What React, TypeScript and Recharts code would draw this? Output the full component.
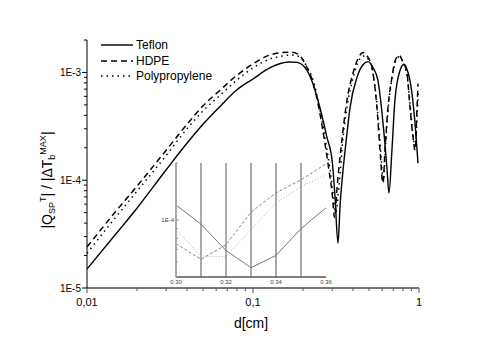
import React from "react";
import { LineChart, Line, XAxis, YAxis, ReferenceLine } from "recharts";

// ---- main chart data ----
const teflonD = [0.01, 0.015, 0.02, 0.03, 0.04, 0.05, 0.063, 0.08, 0.1, 0.126, 0.146, 0.165, 0.184, 0.211, 0.23, 0.254, 0.279, 0.3, 0.312, 0.325, 0.335, 0.348, 0.366, 0.384, 0.423, 0.46, 0.493, 0.53, 0.566, 0.607, 0.641, 0.659, 0.687, 0.716, 0.768, 0.812, 0.85, 0.883, 0.946, 0.986];
const teflonV = [1.5e-5, 3.2e-5, 5.5e-5, 1.25e-4, 2.2e-4, 3.3e-4, 4.8e-4, 6.9e-4, 8.7e-4, 1.1e-3, 1.21e-3, 1.25e-3, 1.24e-3, 1.05e-3, 7.8e-4, 4.6e-4, 2.5e-4, 1.5e-4, 7e-5, 2.6e-5, 6e-5, 1.2e-4, 2.5e-4, 4.7e-4, 9.0e-4, 1.18e-3, 1.26e-3, 1.1e-3, 8.4e-4, 3.4e-4, 1.3e-4, 7.6e-5, 1.9e-4, 5.5e-4, 1.04e-3, 1.19e-3, 1.05e-3, 8.4e-4, 3.4e-4, 1.44e-4];

const hdpeD = [0.01, 0.015, 0.02, 0.03, 0.04, 0.05, 0.063, 0.08, 0.1, 0.126, 0.15, 0.17, 0.19, 0.206, 0.23, 0.25, 0.27, 0.29, 0.3, 0.31, 0.321, 0.343, 0.368, 0.4, 0.43, 0.46, 0.49, 0.521, 0.558, 0.582, 0.607, 0.624, 0.65, 0.687, 0.72, 0.759, 0.8, 0.847, 0.883, 0.921, 0.946, 0.973, 0.986];
const hdpeV = [2.4e-5, 5.2e-5, 8.8e-5, 1.9e-4, 3.3e-4, 4.9e-4, 6.8e-4, 9.4e-4, 1.2e-3, 1.45e-3, 1.53e-3, 1.54e-3, 1.45e-3, 1.2e-3, 8.0e-4, 4.6e-4, 2.3e-4, 1.1e-4, 7.5e-5, 4.5e-5, 8.6e-5, 2.34e-4, 5.5e-4, 9.8e-4, 1.35e-3, 1.53e-3, 1.4e-3, 1.11e-3, 4.7e-4, 1.9e-4, 9.4e-5, 1.9e-4, 4.7e-4, 9.0e-4, 1.3e-3, 1.44e-3, 1.25e-3, 9.8e-4, 4.7e-4, 2.5e-4, 1.9e-4, 4.7e-4, 7.9e-4];

const polyD = [0.01, 0.015, 0.02, 0.03, 0.04, 0.05, 0.063, 0.08, 0.1, 0.126, 0.15, 0.17, 0.19, 0.21, 0.23, 0.25, 0.27, 0.29, 0.3, 0.315, 0.33, 0.35, 0.37, 0.4, 0.43, 0.46, 0.49, 0.52, 0.555, 0.58, 0.61, 0.63, 0.655, 0.69, 0.72, 0.76, 0.8, 0.85, 0.89, 0.925, 0.95, 0.975, 0.99];
const polyV = [2.1e-5, 4.6e-5, 7.9e-5, 1.7e-4, 3.0e-4, 4.4e-4, 6.1e-4, 8.5e-4, 1.1e-3, 1.33e-3, 1.42e-3, 1.45e-3, 1.4e-3, 1.15e-3, 8.5e-4, 5.0e-4, 2.6e-4, 1.3e-4, 8.9e-5, 5.0e-5, 9.0e-5, 2.6e-4, 5.0e-4, 8.8e-4, 1.25e-3, 1.42e-3, 1.35e-3, 1.1e-3, 5.5e-4, 2.5e-4, 1.0e-4, 2.2e-4, 5.0e-4, 9.0e-4, 1.25e-3, 1.4e-3, 1.25e-3, 9.0e-4, 4.5e-4, 2.4e-4, 2.0e-4, 4.0e-4, 6.5e-4];

const xTicks = [0.01, 0.02, 0.03, 0.04, 0.05, 0.06, 0.07, 0.08, 0.09, 0.1, 0.2, 0.3, 0.4, 0.5, 0.6, 0.7, 0.8, 0.9, 1];
const xMajorLabels: Record<string, string> = { "0.01": "0,01", "0.1": "0,1", "1": "1" };
const yTicks = [1e-5, 2e-5, 3e-5, 4e-5, 5e-5, 6e-5, 7e-5, 8e-5, 9e-5, 1e-4, 2e-4, 3e-4, 4e-4, 5e-4, 6e-4, 7e-4, 8e-4, 9e-4, 1e-3, 2e-3];
const yMajorLabels: Record<string, string> = { "0.00001": "1E-5", "0.0001": "1E-4", "0.001": "1E-3" };

// ---- inset data ----
const insetD = [0.30, 0.31, 0.32, 0.33, 0.34, 0.35, 0.36];
const insetTeflon = [1.2e-4, 9.5e-5, 6.9e-5, 5.6e-5, 6.5e-5, 9.0e-5, 1.16e-4];
const insetHDPE = [7.5e-5, 6.2e-5, 7.4e-5, 1.1e-4, 1.39e-4, 1.63e-4, 1.98e-4];
const insetPoly = [8.9e-5, 6.45e-5, 6.4e-5, 8.9e-5, 1.23e-4, 1.5e-4, 1.73e-4];
const insetXTicks = [0.30, 0.32, 0.34, 0.36];
const insetXLabels = ["0.30", "0.32", "0.34", "0.36"];
const insetYTicks = [6e-5, 7e-5, 8e-5, 9e-5, 1e-4, 2e-4];
const insetGridGray = [0.31, 0.32, 0.33];
const insetGridDark = [0.34, 0.35];

const zip = (d: number[], v: number[]) => d.map((x, i) => ({ d: x, v: v[i] }));
const teflonData = zip(teflonD, teflonV);
const hdpeData = zip(hdpeD, hdpeV);
const polyData = zip(polyD, polyV);
const insetData = insetD.map((x, i) => ({ d: x, t: insetTeflon[i], h: insetHDPE[i], p: insetPoly[i] }));

const FONT = "'Liberation Sans', Arial, sans-serif";

const XTick = (props: any) => {
  const { x, y, payload } = props;
  const key = String(payload.value);
  const lab = xMajorLabels[key];
  const major = !!lab;
  return (
    <g>
      <line x1={x} x2={x} y1={y} y2={y + (major ? 5 : 3)} stroke="#555" strokeWidth={1} />
      {major && (
        <text x={x} y={y + 18} textAnchor="middle" fontSize={11} fontFamily={FONT} fill="#000">
          {lab}
        </text>
      )}
    </g>
  );
};

const YTick = (props: any) => {
  const { x, y, payload } = props;
  const key = String(payload.value);
  const lab = yMajorLabels[key];
  const major = !!lab;
  return (
    <g>
      <line x1={x} x2={x - (major ? 5 : 3)} y1={y} y2={y} stroke="#000" strokeWidth={1} />
      {major && (
        <text x={x - 6} y={y + 3.5} textAnchor="end" fontSize={10} fontFamily={FONT} fill="#000">
          {lab}
        </text>
      )}
    </g>
  );
};

const InsetXTick = (props: any) => {
  const { x, y, payload } = props;
  const i = insetXTicks.indexOf(payload.value);
  return (
    <text x={x} y={y + 7} textAnchor="middle" fontSize={6} fontFamily={FONT} fill="#444">
      {i >= 0 ? insetXLabels[i] : ""}
    </text>
  );
};

const InsetYTick = (props: any) => {
  const { x, y, payload } = props;
  const major = payload.value === 1e-4;
  return (
    <g>
      <line x1={x} x2={x + (major ? 3 : 2)} y1={y} y2={y} stroke="#999" strokeWidth={1} />
      {major && (
        <text x={x - 2} y={y + 2} textAnchor="end" fontSize={6} fontFamily={FONT} fill="#444">
          1E-4
        </text>
      )}
    </g>
  );
};

export default function App() {
  return (
    <div style={{ position: "relative", width: 469, height: 330, background: "#fff" }}>
      <LineChart width={469} height={330} margin={{ top: 32, right: 58, bottom: 20, left: 29 }}>
        <XAxis
          dataKey="d"
          type="number"
          scale="log"
          domain={[0.01, 1]}
          allowDataOverflow
          ticks={xTicks}
          interval={0}
          tick={<XTick />}
          tickLine={false}
          tickSize={0}
          tickMargin={0}
          height={30}
          axisLine={{ stroke: "#777", strokeWidth: 2 }}
        />
        <YAxis
          dataKey="v"
          type="number"
          scale="log"
          domain={[1e-5, 2e-3]}
          allowDataOverflow
          ticks={yTicks}
          interval={0}
          tick={<YTick />}
          tickLine={false}
          tickSize={0}
          tickMargin={0}
          width={50}
          axisLine={{ stroke: "#000", strokeWidth: 1 }}
        />
        <Line data={teflonData} dataKey="v" type="monotone" stroke="#000" strokeWidth={1.4} dot={false} isAnimationActive={false} name="Teflon" />
        <Line data={hdpeData} dataKey="v" type="monotone" stroke="#000" strokeWidth={1.5} strokeDasharray="6 4" dot={false} isAnimationActive={false} name="HDPE" />
        <Line data={polyData} dataKey="v" type="monotone" stroke="#000" strokeWidth={1.5} strokeDasharray="1.5 4" dot={false} isAnimationActive={false} name="Polypropylene" />
      </LineChart>

      <div style={{ position: "absolute", left: 146, top: 153 }}>
        <LineChart width={180} height={130} margin={{ top: 2, right: 8, bottom: 0, left: 0 }} data={insetData}>
          <XAxis
            dataKey="d"
            type="number"
            domain={[0.3, 0.36]}
            ticks={insetXTicks}
            interval={0}
            tick={<InsetXTick />}
            tickLine={false}
            tickSize={0}
            tickMargin={0}
            height={14}
            axisLine={{ stroke: "#555", strokeWidth: 1.5 }}
          />
          <YAxis
            type="number"
            scale="log"
            domain={[5e-5, 2e-4]}
            allowDataOverflow
            ticks={insetYTicks}
            interval={0}
            tick={<InsetYTick />}
            tickLine={false}
            tickSize={0}
            tickMargin={0}
            width={22}
            axisLine={{ stroke: "#aaa", strokeWidth: 2 }}
          />
          {insetGridGray.map((g) => (
            <ReferenceLine key={"g" + g} x={g} stroke="#aaa" strokeWidth={2} />
          ))}
          {insetGridDark.map((g) => (
            <ReferenceLine key={"k" + g} x={g} stroke="#555" strokeWidth={1} />
          ))}
          <Line dataKey="t" type="linear" stroke="#777" strokeWidth={1} dot={false} isAnimationActive={false} />
          <Line dataKey="h" type="linear" stroke="#888" strokeWidth={1} strokeDasharray="3 2" dot={false} isAnimationActive={false} />
          <Line dataKey="p" type="linear" stroke="#aaa" strokeWidth={1} strokeDasharray="1 2" dot={false} isAnimationActive={false} />
        </LineChart>
      </div>

      <svg width={469} height={330} style={{ position: "absolute", left: 0, top: 0, pointerEvents: "none" }}>
        {/* legend */}
        <g fontFamily={FONT} fontSize={12} fill="#000">
          <line x1={93} x2={125} y1={37} y2={37} stroke="#000" strokeWidth={1.4} />
          <text x={128} y={41}>Teflon</text>
          <line x1={93} x2={125} y1={53} y2={53} stroke="#000" strokeWidth={1.5} strokeDasharray="6 4" />
          <text x={128} y={57}>HDPE</text>
          <line x1={93} x2={125} y1={68} y2={68} stroke="#000" strokeWidth={1.5} strokeDasharray="1.5 4" />
          <text x={128} y={72}>Polypropylene</text>
        </g>
        {/* x label */}
        <text x={243} y={320} textAnchor="middle" fontFamily={FONT} fontSize={14} fill="#000">d[cm]</text>
        {/* y label */}
        <text transform="translate(44,172) rotate(-90)" textAnchor="middle" fontFamily={FONT} fontSize={14} fill="#000">
          |Q<tspan dy={3} fontSize={9}>SP</tspan>
          <tspan dy={-9} fontSize={9}>T</tspan>
          <tspan dy={6}>| / |ΔT</tspan>
          <tspan dy={3} fontSize={9}>b</tspan>
          <tspan dy={-9} fontSize={9}>MAX</tspan>
          <tspan dy={6}>|</tspan>
        </text>
      </svg>
    </div>
  );
}
